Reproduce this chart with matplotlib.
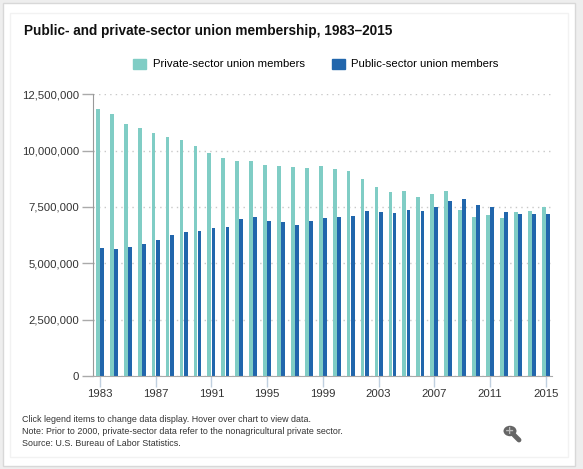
import matplotlib
matplotlib.use("Agg")
import matplotlib.pyplot as plt
import numpy as np
from matplotlib.patches import Rectangle, Circle

# union members by year
years = list(range(1983, 2016))
private_members = [11.86, 11.61, 11.17, 11.02, 10.80, 10.62, 10.48, 10.22, 9.91, 9.68,
                   9.56, 9.56, 9.37, 9.33, 9.28, 9.24, 9.33, 9.19, 9.11, 8.75,
                   8.39, 8.17, 8.22, 7.95, 8.08, 8.22, 7.37, 7.06, 7.15, 7.02,
                   7.28, 7.33, 7.50]
public_members = [5.68, 5.64, 5.73, 5.86, 6.04, 6.26, 6.39, 6.44, 6.57, 6.62,
                  6.97, 7.06, 6.88, 6.84, 6.70, 6.88, 7.02, 7.06, 7.10, 7.33,
                  7.28, 7.24, 7.37, 7.33, 7.50, 7.77, 7.86, 7.59, 7.50, 7.28,
                  7.19, 7.19, 7.19]
tick_years = list(range(1983, 2016, 4))
ytick_vals = [0, 2500000, 5000000, 7500000, 10000000, 12500000]

private_col = "#80cdc5"
public_col = "#2166ac"
font = "Liberation Sans"

fig = plt.figure(figsize=(5.83, 4.69), dpi=100)
fig.patch.set_facecolor("white")

# outer frame like the web widget
fig.patches.append(Rectangle((0, 0), 1, 1, transform=fig.transFigure,
                             facecolor="#eeeeee", edgecolor="none", zorder=-3))
fig.patches.append(Rectangle((3/583, 1 - 466/469), 572/583, 463/469, transform=fig.transFigure,
                             facecolor="white", edgecolor="#d8d8d8", lw=1, zorder=-2))
fig.patches.append(Rectangle((10/583, 1 - 457/469), 558/583, 444/469, transform=fig.transFigure,
                             facecolor="white", edgecolor="#f2f2f2", lw=1, zorder=-1))

ax = fig.add_axes([93/583, 1 - 376/469, 459/583, 281.7/469])
x = np.array(years)
vals_priv = np.array(private_members) * 1e6
vals_pub = np.array(public_members) * 1e6
ax.bar(x - 0.15, vals_priv, width=0.27, color=private_col, zorder=2)
ax.bar(x + 0.15, vals_pub, width=0.27, color=public_col, zorder=2)

ax.set_xlim(1982.5, 2015.45)
ax.set_ylim(0, 12500000)
ax.set_yticks(ytick_vals)
ax.set_yticklabels([f"{v:,}" for v in ytick_vals], family=font, fontsize=8.2, color="#333333")
ax.set_xticks(tick_years)
ax.set_xticklabels([str(t) for t in tick_years], family=font, fontsize=8.2, color="#333333")
ax.tick_params(axis="y", length=8, width=1, color="#aaaaaa", pad=2)
ax.tick_params(axis="x", length=8, width=1, color="#c0d0e0", pad=1)
ax.grid(axis="y", linestyle=(0, (1, 3)), color="#c8c8c8", lw=1, zorder=0)
for s in ["top", "right"]:
    ax.spines[s].set_visible(False)
ax.spines["left"].set_color("#999999")
ax.spines["bottom"].set_color("#aaaaaa")

fig.text(24/583, 1 - 31/469, "Public- and private-sector union membership, 1983\u20132015",
         fontsize=9.8, fontweight="bold", family=font, va="center", color="#111111")

h1 = Rectangle((0, 0), 1, 1, color=private_col)
h2 = Rectangle((0, 0), 1, 1, color=public_col)
fig.legend([h1, h2], ["Private-sector union members", "Public-sector union members"],
           loc="center", bbox_to_anchor=(316/583, 1 - 64/469), ncol=2, frameon=False,
           prop={"family": font, "size": 8.2}, handlelength=1.1, handleheight=1.0,
           handletextpad=0.6, columnspacing=2.4)

notes = ["Click legend items to change data display. Hover over chart to view data.",
         "Note: Prior to 2000, private-sector data refer to the nonagricultural private sector.",
         "Source: U.S. Bureau of Labor Statistics."]
for i, line in enumerate(notes):
    fig.text(22/583, 1 - (419 + 12 * i)/469, line, fontsize=6.4, family=font,
             va="center", color="#333333")

# zoom icon
fig.patches.append(Circle((510/583, 1 - 431/469), 6.5/583, transform=fig.transFigure,
                          facecolor="#666666", edgecolor="none"))
fig.lines.append(plt.Line2D([514/583, 519/583], [1 - 435/469, 1 - 440/469],
                            transform=fig.transFigure, color="#666666", lw=3.5,
                            solid_capstyle="round"))
fig.text(510/583, 1 - 431/469, "+", transform=fig.transFigure, ha="center", va="center",
         fontsize=8, color="#bbbbbb", fontweight="bold")

fig.savefig("out.png", dpi=100)
